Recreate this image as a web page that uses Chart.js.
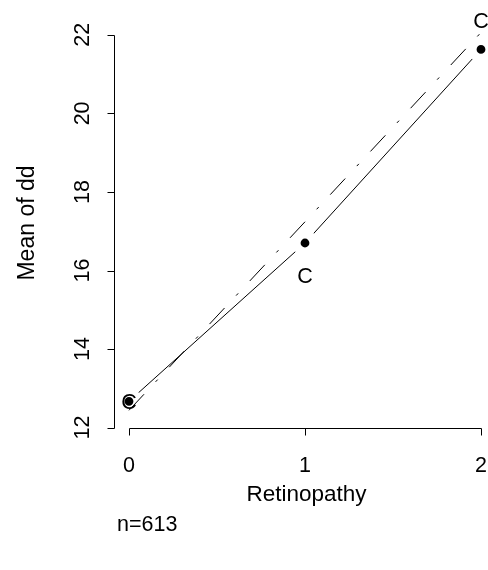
<!DOCTYPE html>
<html>
<head>
<meta charset="utf-8">
<script src="https://cdn.jsdelivr.net/npm/chart.js@4/dist/chart.umd.min.js"></script>
<style>
  html, body { margin: 0; padding: 0; background: #fff; overflow: hidden; }
  #wrap { position: relative; width: 488px; height: 570px; }
</style>
</head>
<body>
<div id="wrap"><canvas id="xmeanChart" width="488" height="570"></canvas></div>
<script>
// levels of Retinopathy and the means of dd
const levels = [0, 1, 2];
const xTickLabels = ['0', '1', '2'];
const yTicks = [12, 14, 16, 18, 20, 22];
const meanDd = [12.67, 16.70, 21.63];      // observed mean (solid, dots)
const poExpected = [12.44, 17.24, 22.06];  // expected under PO (dash-dot)
const crExpected = [12.66, 15.87, 22.36];  // expected under CR ("C")
const xTitle = 'Retinopathy';
const yTitle = 'Mean of dd';
const footNote = 'n=613';

const FONT = '"Liberation Sans", Arial, Helvetica, sans-serif';
const FSIZE = 21.5;

const toPoints = (vals) => levels.map((l, i) => ({ x: l, y: vals[i] }));

// axes, labels and the "C" symbols, drawn R style
const rAxesPlugin = {
    id: 'rAxes',
    afterDatasetsDraw(chart) {
        const ctx = chart.ctx;
        const xs = chart.scales.x;
        const ys = chart.scales.y;

        ctx.save();
        ctx.fillStyle = '#000';
        ctx.font = FSIZE + 'px ' + FONT;
        ctx.textAlign = 'center';
        ctx.textBaseline = 'middle';
        crExpected.forEach((v, i) => {
            ctx.fillText('C', xs.getPixelForValue(levels[i]), ys.getPixelForValue(v) + 1);
        });
        ctx.restore();
    },
    afterDraw(chart) {
        const ctx = chart.ctx;
        const xs = chart.scales.x;
        const ys = chart.scales.y;
        const area = chart.chartArea;
        const tick = 7;

        ctx.save();
        ctx.strokeStyle = '#000';
        ctx.fillStyle = '#000';
        ctx.lineWidth = 1;

        // y axis
        const yTop = Math.round(ys.getPixelForValue(yTicks[yTicks.length - 1])) + 0.5;
        const yBot = Math.round(ys.getPixelForValue(yTicks[0])) + 0.5;
        const ax = Math.round(area.left) + 0.5;
        ctx.beginPath();
        ctx.moveTo(ax, yTop);
        ctx.lineTo(ax, yBot);
        yTicks.forEach(t => {
            const py = Math.round(ys.getPixelForValue(t)) + 0.5;
            ctx.moveTo(ax, py);
            ctx.lineTo(ax - tick, py);
        });
        ctx.stroke();

        ctx.font = FSIZE + 'px ' + FONT;
        ctx.textAlign = 'center';
        ctx.textBaseline = 'alphabetic';
        yTicks.forEach(t => {
            const py = ys.getPixelForValue(t);
            ctx.save();
            ctx.translate(89, py);
            ctx.rotate(-Math.PI / 2);
            ctx.fillText(String(t), 0, 0);
            ctx.restore();
        });

        ctx.save();
        ctx.translate(34, 223);
        ctx.rotate(-Math.PI / 2);
        ctx.font = '23px ' + FONT;
        ctx.fillText(yTitle, 0, 0);
        ctx.restore();

        // x axis
        const xL = Math.round(xs.getPixelForValue(levels[0])) + 0.5;
        const xR = Math.round(xs.getPixelForValue(levels[levels.length - 1])) + 0.5;
        const ay = Math.round(area.bottom) + 0.5;
        ctx.beginPath();
        ctx.moveTo(xL, ay);
        ctx.lineTo(xR, ay);
        levels.forEach(l => {
            const px = Math.round(xs.getPixelForValue(l)) + 0.5;
            ctx.moveTo(px, ay);
            ctx.lineTo(px, ay + tick);
        });
        ctx.stroke();

        ctx.textBaseline = 'alphabetic';
        levels.forEach((l, i) => {
            ctx.fillText(xTickLabels[i], xs.getPixelForValue(l), 472);
        });
        ctx.font = '22.5px ' + FONT;
        ctx.fillText(xTitle, (xL + xR) / 2 + 1, 501);

        ctx.font = FSIZE + 'px ' + FONT;
        ctx.textAlign = 'left';
        ctx.fillText(footNote, 117, 531);
        ctx.restore();
    }
};

const ctx = document.getElementById('xmeanChart').getContext('2d');
const xmeanChart = new Chart(ctx, {
    type: 'line',
    data: {
        datasets: [
            {
                label: 'mean',
                data: toPoints(meanDd),
                borderColor: '#000',
                borderWidth: 1,
                pointRadius: 8.7,
                pointBorderWidth: 8.6,
                pointBackgroundColor: '#000',
                pointBorderColor: '#fff',
                pointHoverRadius: 8.7,
                tension: 0,
                clip: false,
                order: 2
            },
            {
                label: 'PO',
                data: toPoints(poExpected),
                borderColor: '#000',
                borderWidth: 1,
                borderDash: [22, 17, 3, 17],
                pointRadius: 0,
                tension: 0,
                clip: false,
                order: 1
            }
        ]
    },
    options: {
        responsive: false,
        animation: false,
        devicePixelRatio: 1,
        layout: {
            autoPadding: false,
            padding: { left: 114, right: 0, top: 5, bottom: 142 }
        },
        scales: {
            x: {
                type: 'linear',
                display: false,
                min: -0.0852,
                max: 2.0398
            },
            y: {
                type: 'linear',
                display: false,
                min: 11.99,
                max: 22.76
            }
        },
        plugins: {
            legend: { display: false },
            tooltip: { enabled: false }
        },
        events: []
    },
    plugins: [rAxesPlugin]
});
</script>
</body>
</html>
